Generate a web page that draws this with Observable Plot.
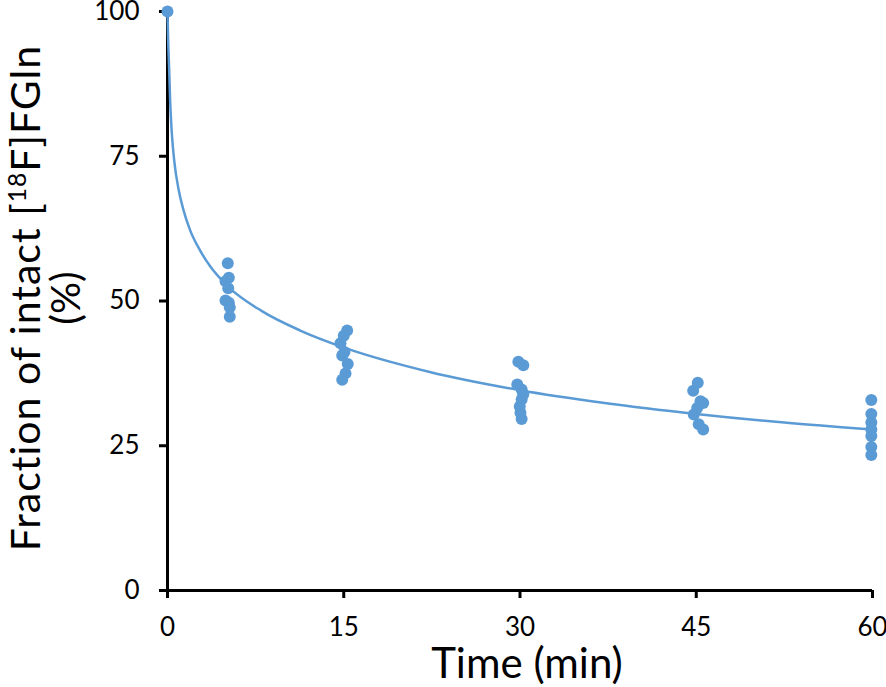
<!DOCTYPE html>
<html>
<head>
<meta charset="utf-8">
<script src="https://cdn.jsdelivr.net/npm/d3@7"></script>
<script src="https://cdn.jsdelivr.net/npm/@observablehq/plot@0.6"></script>
<style>
  html, body { margin: 0; padding: 0; background: #fff; overflow: hidden; }
  #chart svg { overflow: visible; display: block; }
</style>
</head>
<body>
<div id="chart"></div>
<script>
// Observed fractions (%) per sample
const pointTimes = [0,
  5.13, 5.22, 4.94, 5.17, 4.94, 5.22, 5.30, 5.30,
  15.29, 15.00, 14.72, 15.06, 14.87, 15.34, 15.15, 14.87,
  29.86, 30.28, 29.77, 30.14, 30.28, 30.14, 29.98, 30.04, 30.14,
  45.13, 44.74, 45.36, 45.59, 45.08, 44.79, 45.21, 45.59,
  59.9, 59.9, 59.9, 59.9, 59.9, 59.9, 59.9];
const pointValues = [100,
  56.5, 54.0, 53.4, 52.2, 50.1, 49.7, 48.9, 47.3,
  44.9, 44.0, 42.7, 41.2, 40.6, 39.1, 37.5, 36.4,
  39.5, 38.9, 35.6, 34.7, 33.9, 33.0, 31.8, 30.7, 29.6,
  35.9, 34.5, 32.7, 32.4, 31.5, 30.4, 28.7, 27.8,
  32.9, 30.5, 29.0, 27.8, 26.7, 24.8, 23.4];

// Fitted curve
const curveTimes = [0, 0.05, 0.14, 0.23, 0.37, 0.57, 0.94, 1.36, 1.93, 2.78, 3.63, 4.62, 5.2, 8, 11.3, 15.1, 22.4, 30, 37.2, 45, 52.5, 60];
const curveValues = [100, 95.5, 90.1, 84.3, 78.9, 74.3, 69.3, 65.7, 62.2, 58.7, 56.0, 53.6, 52.4, 48.3, 44.9, 41.9, 37.7, 34.6, 32.4, 30.5, 29.0, 27.8];

const xTicks = [0, 15, 30, 45, 60];
const yTicks = [0, 25, 50, 75, 100];
const xTitle = "Time (min)";

const points = pointTimes.map((t, i) => ({t, v: pointValues[i]}));
const curve = curveTimes.map((t, i) => ({t, v: curveValues[i]}));
const blue = "#5B9BD5";

const plot = Plot.plot({
  width: 886,
  height: 687,
  marginLeft: 167,
  marginRight: 14,
  marginTop: 11,
  marginBottom: 97,
  style: {fontFamily: "Lato, sans-serif", fontSize: "26px", color: "#000", overflow: "visible"},
  x: {domain: [0, 60]},
  y: {domain: [0, 100]},
  marks: [
    Plot.axisX({ticks: xTicks, tickSize: 8, tickPadding: 19, strokeWidth: 3, label: null, fontSize: 26}),
    Plot.axisY({ticks: yTicks, tickSize: 8, tickPadding: 20, strokeWidth: 3, label: null, fontSize: 26}),
    Plot.ruleY([0], {stroke: "#000", strokeWidth: 3}),
    Plot.ruleX([0], {stroke: "#000", strokeWidth: 3}),
    Plot.line(curve, {x: "t", y: "v", stroke: blue, strokeWidth: 2.5, curve: "monotone-x"}),
    Plot.dot(points, {x: "t", y: "v", r: 6, fill: blue, stroke: "none"})
  ]
});

document.getElementById("chart").appendChild(plot);

const svg = d3.select(plot);
// X axis title
svg.append("text")
  .attr("x", 527).attr("y", 678)
  .attr("text-anchor", "middle")
  .attr("font-family", "Lato, sans-serif")
  .attr("font-size", 42)
  .attr("fill", "#000")
  .text(xTitle);

// Y axis title (two lines, with superscript); positioned by baseline
const yt = svg.append("text")
  .attr("transform", "translate(40,298) rotate(-90)")
  .attr("text-anchor", "middle")
  .attr("font-family", "Lato, sans-serif")
  .attr("font-size", 41)
  .attr("letter-spacing", "1px")
  .attr("fill", "#000");
yt.append("tspan").text("Fraction of intact [");
yt.append("tspan").attr("baseline-shift", "super").attr("font-size", "60%").text("18");
yt.append("tspan").text("F]FGln");

svg.append("text")
  .attr("transform", "translate(80,298) rotate(-90)")
  .attr("text-anchor", "middle")
  .attr("font-family", "Lato, sans-serif")
  .attr("font-size", 40)
  .attr("fill", "#000")
  .text("(%)");
</script>
</body>
</html>
